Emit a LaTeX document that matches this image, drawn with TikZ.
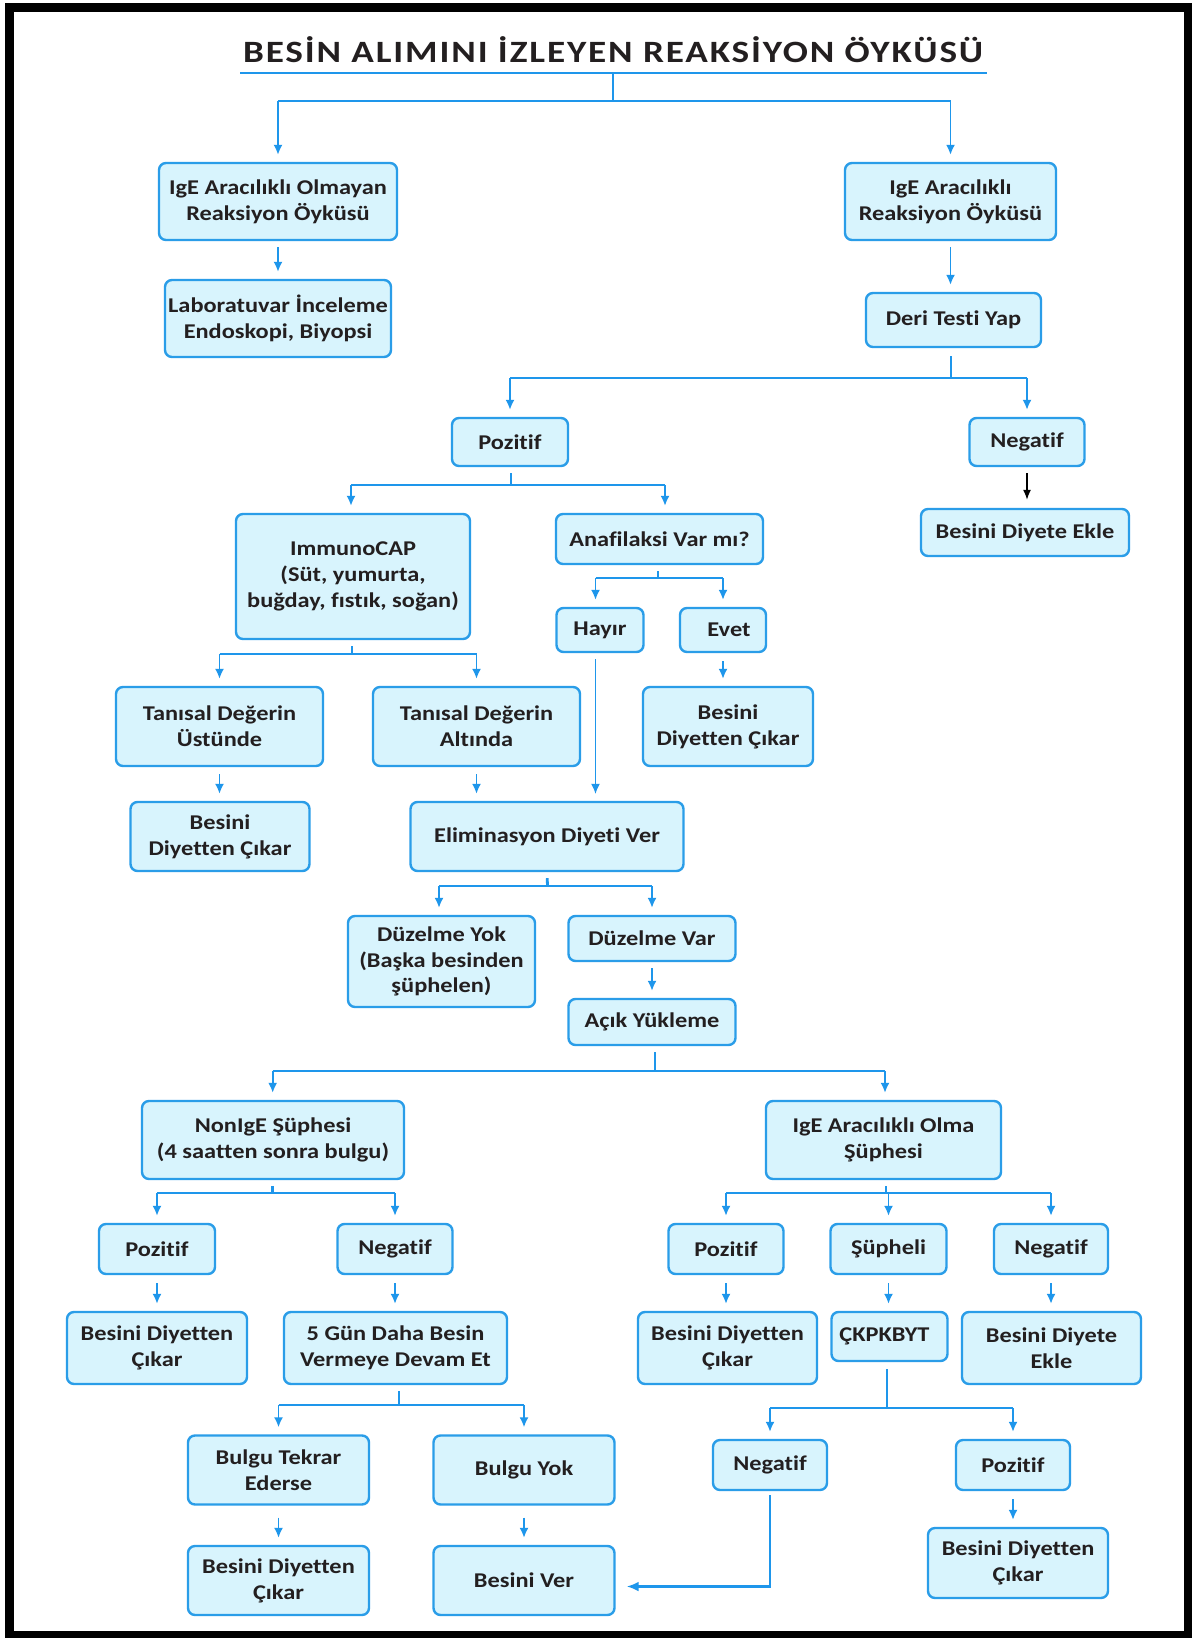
\documentclass[tikz,border=0pt]{standalone}
\usepackage{fontspec}
\setmainfont{Carlito}
\newfontfamily\bodyfont{Carlito}[FakeStretch=1.16,Ligatures=NoCommon]
\newfontfamily\titlefont{Carlito}[FakeStretch=1.2,LetterSpace=6]
\usetikzlibrary{arrows.meta}
\definecolor{bblue}{RGB}{42,157,232}
\definecolor{lblue}{RGB}{30,150,235}
\definecolor{bfill}{RGB}{216,244,253}
\definecolor{txt}{RGB}{35,31,32}
\tikzset{
 box/.style={draw=bblue, fill=bfill, line width=1.2pt, rounded corners=3.5pt, align=center, inner sep=0pt, text=txt, font=\bodyfont\fontsize{10.5}{12.9}\selectfont\bfseries},
 fork/.style={draw=lblue, line width=1.4pt},
 arr/.style={draw=lblue, line width=0.9pt, -{Latex[length=5pt,width=4.5pt]}, shorten >=3.5pt},
}
\newcommand\bx[6]{\node[box, minimum width=#4*0.5pt, minimum height=#5*0.5pt] (#1) at (#2,#3) {#6};}
\begin{document}
\begin{tikzpicture}[x=0.5pt,y=-0.5pt]
\useasboundingbox (0,0) rectangle (1192,1638);
\fill[white] (0,0) rectangle (1192,1638);
\draw[line width=4.5pt] (9.5,7) rectangle (1188.5,1635);

% title
\node[font=\titlefont\fontsize{15.5}{18}\selectfont\bfseries, text=txt] (title) at (613,50) {BESİN ALIMINI İZLEYEN REAKSİYON ÖYKÜSÜ};
\coordinate (ulL) at (240,73); \coordinate (ulR) at (987,73); \coordinate (ulM) at (613,73);
\draw[fork] (ulL) -- (ulR);

% boxes
\bx{A1}{278}{201.5}{238}{77}{IgE Aracılıklı Olmayan\\Reaksiyon Öyküsü}
\bx{A2}{278}{318.5}{226}{77}{Laboratuvar İnceleme\\Endoskopi, Biyopsi}
\bx{B1}{950.5}{201.5}{211}{77}{IgE Aracılıklı\\Reaksiyon Öyküsü}
\bx{B2}{953.5}{320}{175}{54}{Deri Testi Yap}
\bx{P1}{510}{442}{116}{48}{Pozitif}
\bx{N1}{1027}{442}{115}{48}{Negatif}
\bx{E1}{1025}{532.5}{208}{47}{Besini Diyete Ekle}
\bx{IC}{353}{576.5}{234}{125}{ImmunoCAP\\(Süt, yumurta,\\buğday, fıstık, soğan)}
\bx{AV}{659.5}{539}{207}{50}{Anafilaksi Var mı?}
\bx{HY}{600}{630}{87}{44}{Hayır}
\bx{EV}{723}{630}{86}{44}{\hspace*{6pt}Evet}
\bx{C1}{728}{726.5}{170}{79}{Besini\\Diyetten Çıkar}
\bx{TU}{219.5}{726.5}{207}{79}{Tanısal Değerin\\Üstünde}
\bx{TA}{476.5}{726.5}{207}{79}{Tanısal Değerin\\Altında}
\bx{C2}{220}{836.5}{179}{69}{Besini\\Diyetten Çıkar}
\bx{EL}{547}{836.5}{273}{69}{Eliminasyon Diyeti Ver}
\bx{DY}{441.5}{961.5}{187}{91}{Düzelme Yok\\(Başka besinden\\şüphelen)}
\bx{DV}{652}{938.5}{167}{45}{Düzelme Var}
\bx{AY}{652}{1022}{167}{46}{Açık Yükleme}
\bx{NI}{273}{1140}{262}{78}{NonIgE Şüphesi\\(4 saatten sonra bulgu)}
\bx{IO}{883.5}{1140}{235}{78}{IgE Aracılıklı Olma\\Şüphesi}
\bx{P2}{157}{1249}{116}{50}{Pozitif}
\bx{N2}{395}{1249}{115}{50}{Negatif}
\bx{C3}{157}{1348}{180}{72}{Besini Diyetten\\Çıkar}
\bx{G5}{395.5}{1348}{223}{72}{5 Gün Daha Besin\\Vermeye Devam Et}
\bx{BT}{278.5}{1470}{181}{69}{Bulgu Tekrar\\Ederse}
\bx{BY}{524}{1470}{181}{69}{Bulgu Yok}
\bx{C4}{278.5}{1580.5}{181}{69}{Besini Diyetten\\Çıkar}
\bx{BV}{524}{1580.5}{181}{69}{Besini Ver}
\bx{P3}{726}{1249}{115}{50}{Pozitif}
\bx{SP}{888.5}{1249}{116}{50}{Şüpheli}
\bx{N3}{1051}{1249}{114}{50}{Negatif}
\bx{C5}{727.5}{1348}{179}{72}{Besini Diyetten\\Çıkar}
\bx{CK}{889.5}{1336.5}{116}{49}{ÇKPKBYT\hspace*{5pt}}
\bx{E2}{1051.5}{1348}{179}{72}{Besini Diyete\\Ekle}
\bx{N4}{770}{1465}{114}{50}{Negatif}
\bx{P4}{1013}{1465}{114}{50}{Pozitif}
\bx{C6}{1018}{1563}{180}{70}{Besini Diyetten\\Çıkar}

% title trunk
\coordinate (jT) at (613,101);
\draw[fork] (ulM) -- (jT);
\draw[fork] (jT -| A1) -- (jT -| B1);
\draw[arr] (jT -| A1) -- (A1.north);
\draw[arr] (jT -| B1) -- (B1.north);

\draw[arr, shorten <=3pt] (A1.south) -- (A2.north);
\draw[arr, shorten <=3pt] (B1.south) -- (B1.south |- B2.north);

% B2 fork
\coordinate (jB) at (951,378);
\draw[fork, shorten <=4pt] (B2.south -| jB) -- (jB);
\draw[fork] (jB -| P1) -- (jB -| N1);
\draw[arr] (jB -| P1) -- (P1.north);
\draw[arr] (jB -| N1) -- (N1.north);

\draw[black, line width=0.7pt, -{Latex[length=5pt,width=4pt]}, shorten <=3pt, shorten >=4pt] (N1.south) -- (N1.south |- E1.north);

% P1 fork
\coordinate (jP) at (511,485);
\draw[fork, shorten <=3pt] (P1.south -| jP) -- (jP);
\coordinate (aIC) at (351,485); \coordinate (aAV) at (665,485);
\draw[fork] (aIC) -- (aAV);
\draw[arr] (aIC) -- (aIC |- IC.north);
\draw[arr] (aAV) -- (aAV |- AV.north);

% AV fork
\coordinate (jA) at (658,578);
\draw[fork, shorten <=3pt] (AV.south -| jA) -- (jA);
\coordinate (aHY) at (595.5,578); \coordinate (aEV) at (723,578);
\draw[fork] (aHY) -- (aEV);
\draw[arr] (aHY) -- (aHY |- HY.north);
\draw[arr] (aEV) -- (EV.north);

\draw[arr, line width=0.6pt, shorten <=3pt] (HY.south -| aHY) -- (aHY |- EL.north);
\draw[arr, shorten <=4pt] (EV.south) -- (EV.south |- C1.north);

% IC fork
\coordinate (jI) at (352,654);
\draw[fork, shorten <=3pt] (IC.south -| jI) -- (jI);
\draw[fork] (jI -| TU) -- (jI -| TA);
\draw[arr] (jI -| TU) -- (TU.north);
\draw[arr] (jI -| TA) -- (TA.north);

\draw[arr, shorten <=3.5pt] (TU.south) -- (TU.south |- C2.north);
\draw[arr, shorten <=3.5pt] (TA.south) -- (TA.south |- EL.north);

% EL fork
\coordinate (jE) at (547.5,886);
\draw[fork, shorten <=3pt] (EL.south) -- (jE);
\coordinate (aDY) at (439,886);
\draw[fork] (aDY) -- (jE -| DV);
\draw[arr] (aDY) -- (aDY |- DY.north);
\draw[arr] (jE -| DV) -- (DV.north);

\draw[arr, shorten <=3pt] (DV.south) -- (AY.north);

% AY fork
\coordinate (jY) at (655,1071);
\draw[fork, shorten <=3pt] (AY.south -| jY) -- (jY);
\coordinate (aNI) at (272.7,1071); \coordinate (aIO) at (885,1071);
\draw[fork] (aNI) -- (aIO);
\draw[arr] (aNI) -- (aNI |- NI.north);
\draw[arr] (aIO) -- (aIO |- IO.north);

% NI fork
\coordinate (jN) at (272.7,1193);
\draw[fork, shorten <=3pt] (NI.south -| jN) -- (jN);
\draw[fork] (jN -| P2) -- (jN -| N2);
\draw[arr] (jN -| P2) -- (P2.north);
\draw[arr] (jN -| N2) -- (N2.north);

\draw[arr, shorten <=4pt] (P2.south) -- (C3.north);
\draw[arr, shorten <=4pt] (N2.south) -- (N2.south |- G5.north);

% G5 fork
\coordinate (jG) at (399,1405);
\draw[fork, shorten <=3pt] (G5.south -| jG) -- (jG);
\draw[fork] (jG -| BT) -- (jG -| BY);
\draw[arr] (jG -| BT) -- (BT.north);
\draw[arr] (jG -| BY) -- (BY.north);

\draw[arr, shorten <=6pt] (BT.south) -- (C4.north);
\draw[arr, shorten <=6pt] (BY.south) -- (BV.north);

% IO fork
\coordinate (jO) at (886,1193);
\draw[fork, shorten <=3pt] (IO.south -| jO) -- (jO);
\draw[fork] (jO -| P3) -- (jO -| N3);
\draw[arr] (jO -| P3) -- (P3.north);
\draw[arr] (jO -| SP) -- (SP.north);
\draw[arr] (jO -| N3) -- (N3.north);

\draw[arr, shorten <=4pt] (P3.south) -- (P3.south |- C5.north);
\draw[arr, shorten <=4pt] (SP.south) -- (SP.south |- CK.north);
\draw[arr, shorten <=4pt] (N3.south) -- (N3.south |- E2.north);

% CK fork
\coordinate (jC) at (887,1408);
\draw[fork, shorten <=3.5pt] (CK.south -| jC) -- (jC);
\draw[fork] (jC -| N4) -- (jC -| P4);
\draw[arr] (jC -| N4) -- (N4.north);
\draw[arr] (jC -| P4) -- (P4.north);

\draw[fork, -{Latex[length=6pt,width=5pt]}, shorten <=2pt, shorten >=5.5pt] (N4.south) |- ([yshift=-3pt]BV.east);
\draw[arr, shorten <=4pt] (P4.south) -- (P4.south |- C6.north);
\end{tikzpicture}
\end{document}
